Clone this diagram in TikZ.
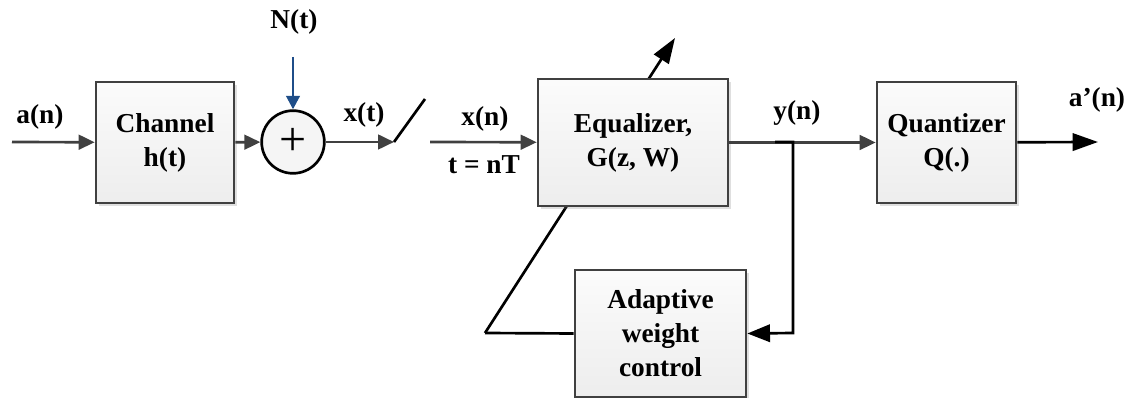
\documentclass[tikz,border=0pt]{standalone}
\usepackage{fontspec}
\setmainfont{Liberation Serif}
\usetikzlibrary{arrows.meta, positioning, shadows}

\definecolor{linegray}{HTML}{404040}
\definecolor{noiseblue}{HTML}{1F4E89}

\newcommand{\blocktext}{\fontsize{20.5}{25.5}\selectfont\bfseries}

\tikzset{
  block/.style={draw=linegray, line width=2pt, top color=gray!3, bottom color=gray!14,
    align=center, inner sep=0pt, drop shadow={shadow xshift=2pt, shadow yshift=-2pt, opacity=0.25}},
  sumnode/.style={circle, draw=black, line width=2pt, fill=gray!8, minimum size=47pt, inner sep=0pt},
  sig/.style={line width=2pt, draw=linegray, -{Triangle[length=12pt, width=11pt]}},
  fb/.style={line width=2pt, draw=black},
  fbarrow/.style={fb, -{Triangle[length=19pt, width=13pt]}}
}

\begin{document}
\begin{tikzpicture}[x=0.75pt, y=-0.75pt, font=\blocktext]
    \useasboundingbox (0,0) rectangle (1132,398);

    % Free ends
    \coordinate (in) at (12,142);
    \coordinate (swa) at (394,142);
    \coordinate (swb) at (425,99);
    \coordinate (samp) at (430,142);
    \coordinate (nsrc) at (293,57);
    \coordinate (fbl) at (485,333);
    \coordinate (wtip) at (675,38);
    \coordinate (tap) at (775,142);
    \coordinate (branch) at (793,142);
    \coordinate (corner) at (793,333);
    \coordinate (out) at (1098,142);

    % Weight adjustment line (behind the equalizer)
    \draw[fbarrow] (fbl) -- (wtip);

    % Blocks
    \node[block, minimum width=103.5pt, minimum height=90.75pt] (channel) at (165,142.5) {Channel\\h(t)};
    \node[sumnode] (sum) at (293,142) {\fontsize{36}{36}\selectfont\mdseries +};
    \node[block, minimum width=142.5pt, minimum height=95.25pt] (equal) at (633,142.5) {Equalizer,\\G(z, W)};
    \node[block, minimum width=104.25pt, minimum height=90.75pt] (quant) at (946.5,142.5) {Quantizer\\Q(.)};
    \node[block, minimum width=128.25pt, minimum height=95.25pt] (adapt) at (660.5,333.5) {Adaptive\\weight\\control};

    % Labels
    \node (an) at (40,117) {a(n)};
    \node (nt) at (294,22) {N(t)};
    \node (xt) at (364,115) {x(t)};
    \node (xn) at (485,119) {x(n)};
    \node (tnT) at (484,165) {t = nT};
    \node (yn) at (797,113) {y(n)};
    \node (aout) at (1097,100) {a’(n)};

    % Forward path
    \draw[sig] (in) -- (channel);
    \draw[sig] (channel) -- (sum);
    \draw[line width=2pt, draw=noiseblue, -{Triangle[length=10pt, width=10pt]}] (nsrc) -- (sum.north);
    \draw[sig] (sum) -- (swa);
    \draw[line width=2pt] (swa) -- (swb);
    \draw[sig] (samp) -- (equal);
    \draw[sig] (equal) -- (quant);
    \draw[fbarrow] (quant) -- (out);

    % Feedback path
    \draw[fb, -{Triangle[length=17pt, width=13pt]}] (tap) -- (branch) -- (corner) -- (adapt.east);
    \draw[fb] (adapt.west) -- (fbl);

\end{tikzpicture}
\end{document}
